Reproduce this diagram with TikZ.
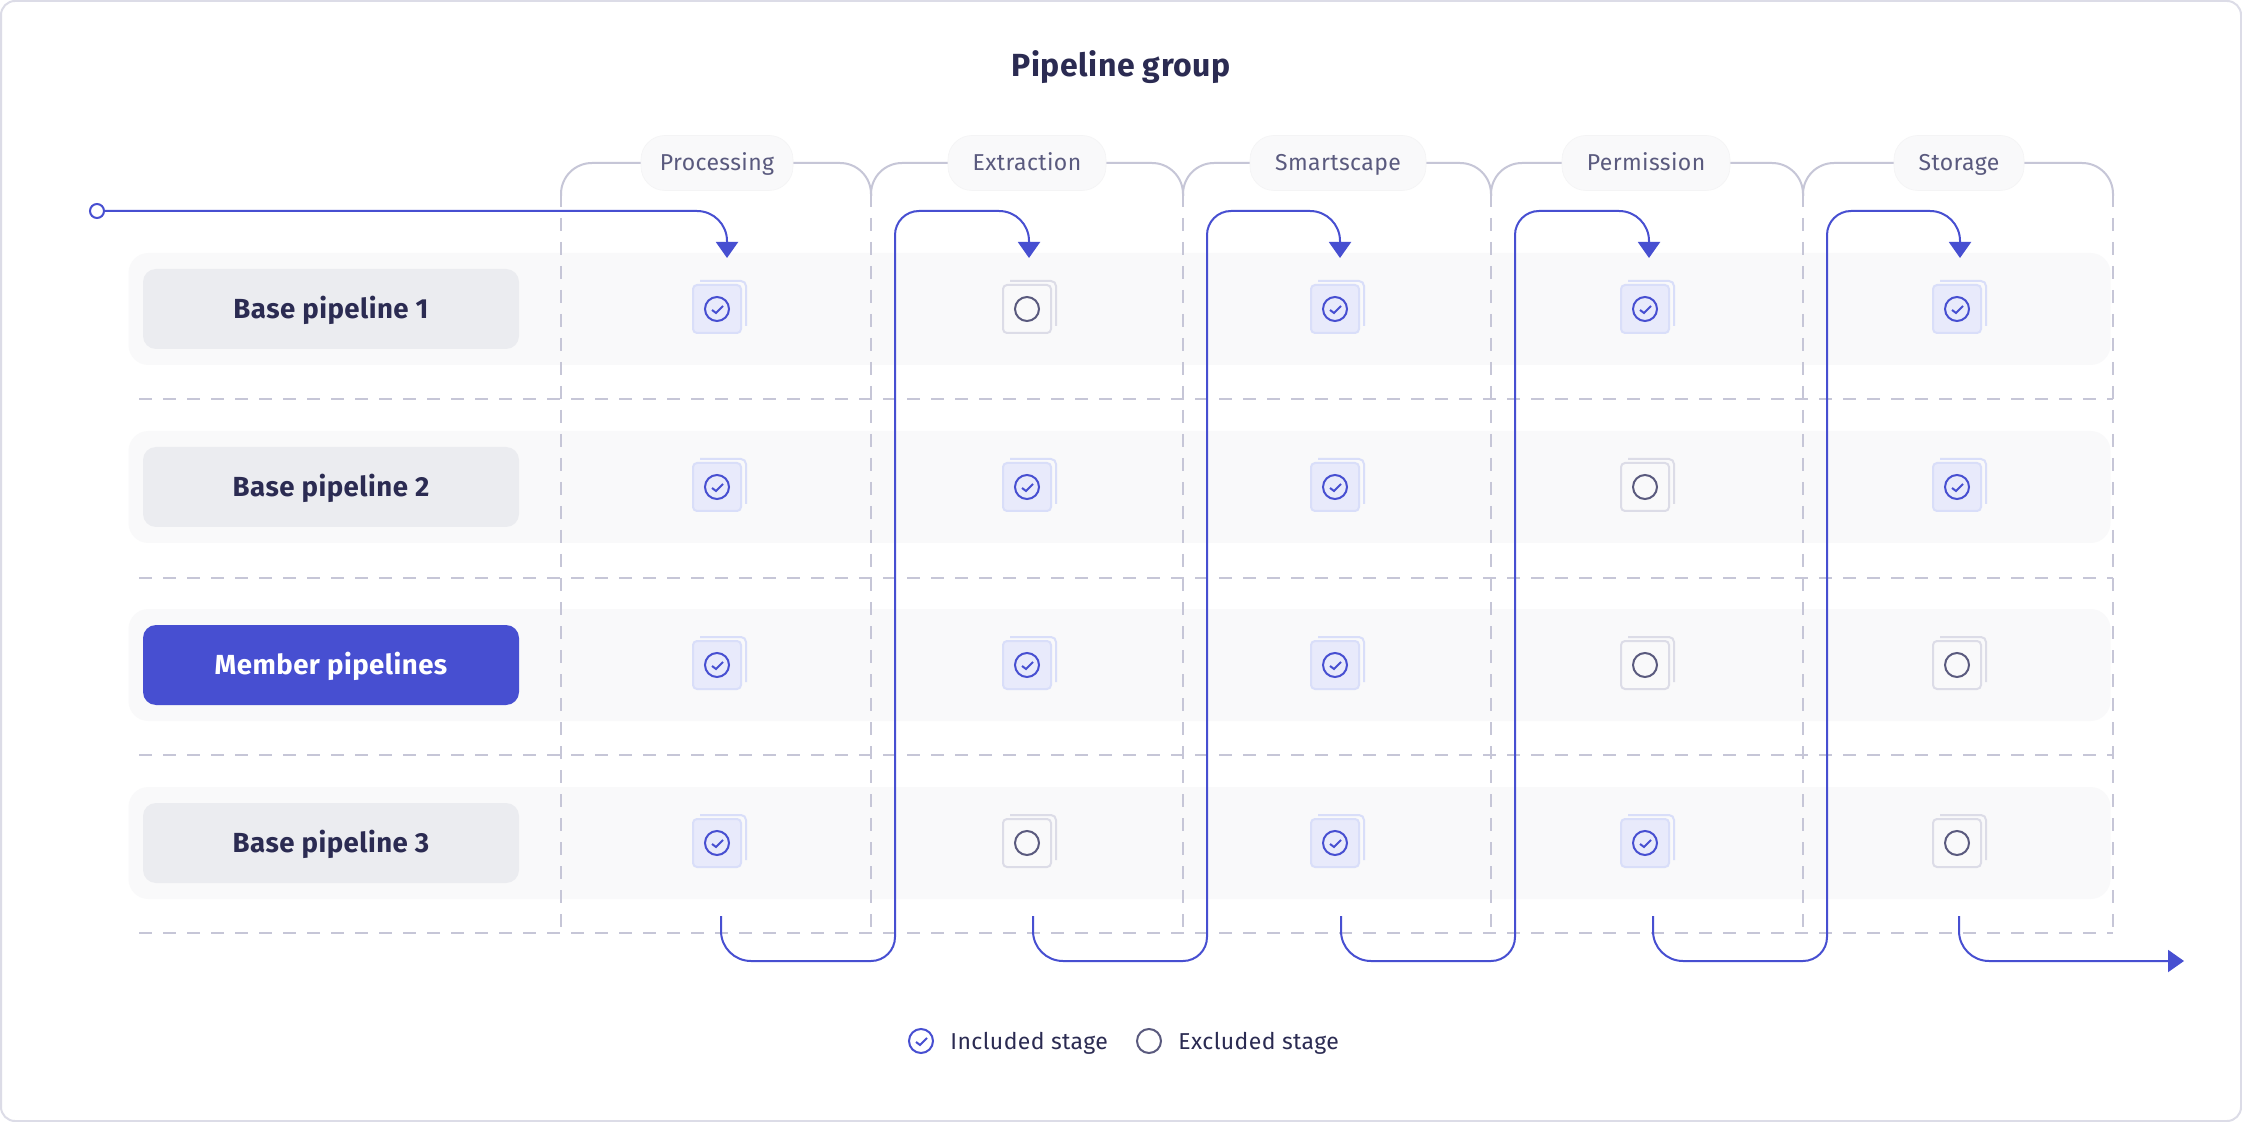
\documentclass[tikz,border=0pt]{standalone}
\usepackage{fontspec}
\setmainfont[LetterSpace=1.7]{Fira Sans}
\usepackage{xcolor}
\definecolor{flow}{HTML}{474FD1}
\definecolor{rail}{HTML}{C6C6D7}
\definecolor{ink}{HTML}{2B2B52}
\definecolor{dim}{HTML}{5A5A7E}
\definecolor{band}{HTML}{F9F9FA}
\definecolor{tag}{HTML}{EBECF0}
\definecolor{onfill}{HTML}{E8EAFB}
\definecolor{onedge}{HTML}{D9DEF9}
\definecolor{offedge}{HTML}{DCDCE7}
\usetikzlibrary{arrows.meta}
\tikzset{
  every node/.style={
    text=ink
  },
  railline/.style={rail, line width=1pt},
  raildash/.style={railline, dash pattern=on 6.7pt off 5.3pt},
  flowline/.style={flow, line width=1pt, -{Triangle[length=8pt,width=11pt]}},
  band/.style={fill=band, draw=none, rounded corners=10pt, minimum width=991pt, minimum height=56pt},
  tagbox/.style={fill=tag, draw=none, rounded corners=6.5pt, minimum width=188pt, minimum height=40pt, text height=9.5pt, text depth=0pt, font=\fontsize{13.8}{16}\selectfont\bfseries},
  pill/.style={fill=band, draw=band!98!black, line width=.3pt, rounded corners=12pt, minimum height=27.5pt, inner sep=0pt, text height=8pt, text depth=0pt, text=dim, font=\fontsize{11.5}{14}\selectfont},
  legendtext/.style={anchor=west, inner sep=0pt, text height=8pt, text depth=0pt, font=\fontsize{11.5}{14}\selectfont},
  stageon/.pic={
    \draw [onedge, line width=1pt, rounded corners=2.5pt] (-17,-28) -- (29,-28) -- (29,17);
    \node [fill=onfill, draw=onedge, line width=1pt, rounded corners=2pt, minimum size=24pt, inner sep=0pt] (-box) at (0,0) {};
    \pic {checkmark};
  },
  stageoff/.pic={
    \draw [offedge, line width=1pt, rounded corners=2.5pt] (-17,-28) -- (29,-28) -- (29,17);
    \node [fill=band, draw=offedge, line width=1pt, rounded corners=2pt, minimum size=24pt, inner sep=0pt] (-box) at (0,0) {};
    \pic {blankmark};
  },
  checkmark/.pic={
    \draw [flow, line width=1pt] (0,0) circle [radius=6pt];
    \draw [flow, line width=1pt] (-5,1) -- (-1,4) -- (6,-3);
  },
  blankmark/.pic={
    \draw [dim, line width=1pt] (0,0) circle [radius=6pt];
  }
}

\begin{document}
\begin{tikzpicture}[x=.5pt, y=-.5pt]
    \useasboundingbox (0,0) rectangle (2242,1122);
    %\draw[gray, very thin] (0,0) grid[step=100] (2242,1122);

    \draw [offedge, line width=1pt, fill=white, rounded corners=7pt] (1,1) rectangle (2241,1121);
    \node [text height=11pt, text depth=0pt] (title) at (1121,66) {\fontsize{16}{18}\selectfont\bfseries Pipeline group};

    % rows
    \foreach \r/\y in {1/309, 2/487, 3/665, 4/843}
        \node [band] (row\r) at (1119.5,\y) {};
    \foreach \y in {399, 578, 755, 933}
        \draw [raildash] (139,\y) -- (2113,\y);

    % stage columns
    \foreach \x in {561, 871, 1183, 1491, 1803, 2113}
        \draw [raildash] (\x,194) -- (\x,935);
    \foreach \a/\b in {561/871, 871/1183, 1183/1491, 1491/1803, 1803/2113}
        \draw [railline, rounded corners=15.5pt] (\a,196) -- (\a,163) -- (\b,163) -- (\b,196);
    \node [pill, minimum width=76pt] (processing) at (717,163) {Processing};
    \node [pill, minimum width=79pt] (extraction) at (1027,163) {Extraction};
    \node [pill, minimum width=88pt] (smartscape) at (1338,163) {Smartscape};
    \node [pill, minimum width=84pt] (permission) at (1646,163) {Permission};
    \node [pill, minimum width=65pt] (storage) at (1959,163) {Storage};

    \node [tagbox] (base1) at (331,309) {Base pipeline 1};
    \node [tagbox] (base2) at (331,487) {Base pipeline 2};
    \node [tagbox, fill=flow, text=white] (member) at (331,665) {Member pipelines};
    \node [tagbox] (base3) at (331,843) {Base pipeline 3};

    % stages per pipeline
    \foreach \x/\c/\a/\b/\e/\d in {717/1/on/on/on/on, 1027/2/off/on/on/off, 1335/3/on/on/on/on, 1645/4/on/off/off/on, 1957/5/on/on/off/off} {
        \pic (a\c) at (\x,309) {stage\a};
        \pic (b\c) at (\x,487) {stage\b};
        \pic (e\c) at (\x,665) {stage\e};
        \pic (d\c) at (\x,843) {stage\d};
    }

    % flow
    \node [circle, draw=flow, fill=white, line width=1pt, minimum size=7pt, inner sep=0pt] (start) at (97,211) {};
    \coordinate (low) at (0,961);
    \coordinate (finish) at (2184,961);
    \foreach \c/\x in {1/721, 2/1033, 3/1341, 4/1653, 5/1959}
        \coordinate (out\c) at (\x,916);
    \foreach \c/\u in {1/895, 2/1207, 3/1515, 4/1827}
        \coordinate (up\c) at (\u,700);
    \foreach \c/\x in {1/727, 2/1029, 3/1340, 4/1649, 5/1960}
        \coordinate (tip\c) at (\x,258);

    \draw [flowline, rounded corners=15pt] (start) -| (tip1);
    \foreach \a/\b in {1/2, 2/3, 3/4, 4/5}
        \draw [flowline] (out\a) [rounded corners=15pt] -- (out\a |- low) [rounded corners=12pt] -- (up\a |- low) -- (up\a |- start) [rounded corners=15pt] -- (tip\b |- start) -- (tip\b);
    \draw [flowline, rounded corners=15pt] (out5) |- (finish);

    % legend
    \pic at (921,1041) {checkmark};
    \node [legendtext] (included) at (950,1041) {Included stage};
    \pic at (1149,1041) {blankmark};
    \node [legendtext] (excluded) at (1178,1041) {Excluded stage};
\end{tikzpicture}
\end{document}
